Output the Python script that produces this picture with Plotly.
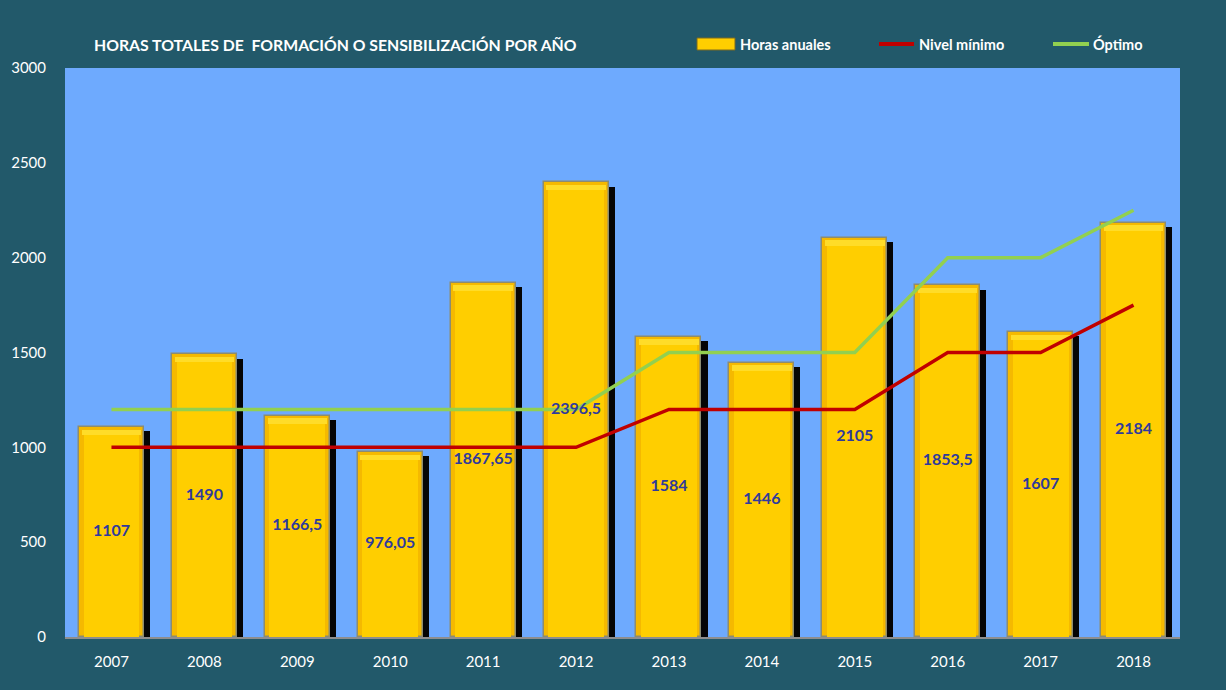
import plotly.graph_objects as go

# Annual training / awareness hours with minimum and optimum targets
years = ["2007", "2008", "2009", "2010", "2011", "2012",
         "2013", "2014", "2015", "2016", "2017", "2018"]
horas_anuales = [1107, 1490, 1166.5, 976.05, 1867.65, 2396.5,
                 1584, 1446, 2105, 1853.5, 1607, 2184]
nivel_minimo = [1000, 1000, 1000, 1000, 1000, 1000,
                1200, 1200, 1200, 1500, 1500, 1750]
optimo = [1200, 1200, 1200, 1200, 1200, 1200,
          1500, 1500, 1500, 2000, 2000, 2250]
y_ticks = [0, 500, 1000, 1500, 2000, 2500, 3000]

BG = "#22596A"
PLOT_BG = "#6EAAFE"
FONT = "Lato"
GOLD = "#FFCE00"
RED = "#C00000"
GREEN = "#92D050"

W, H = 1226, 690
ML, MR, MT, MB = 65, 46, 68, 53
PW, PH = W - ML - MR, H - MT - MB


def px_x(x):
    return (x - ML) / PW


def px_y(y):
    return (H - MB - y) / PH


def fmt(v):
    s = ("%.2f" % v).rstrip("0").rstrip(".")
    return s.replace(".", ",")


xi = list(range(len(years)))

fig = go.Figure()

# drop shadow behind each bar
fig.add_trace(go.Bar(
    x=[i + 0.065 for i in xi], y=[v - 22 for v in horas_anuales],
    width=0.7, marker=dict(color="#050505", line=dict(width=0)),
    hoverinfo="skip"))

# outer body of the bar (darker gold edge)
fig.add_trace(go.Bar(
    x=xi, y=horas_anuales, width=0.7, name="Horas anuales",
    marker=dict(color="#F5B900", line=dict(color="#8C8C70", width=1.5))))

# brighter inner face
fig.add_trace(go.Bar(
    x=xi, y=[v - 30 for v in horas_anuales], width=0.6,
    marker=dict(color=GOLD, line=dict(width=0)), hoverinfo="skip"))

# soft highlight near the top of each bar
fig.add_trace(go.Bar(
    x=xi, y=[28] * len(xi), base=[v - 42 for v in horas_anuales], width=0.64,
    marker=dict(color="#FFDC28", line=dict(width=0)), hoverinfo="skip"))

fig.add_trace(go.Scatter(
    x=xi, y=nivel_minimo, mode="lines", name="Nivel mínimo",
    line=dict(color=RED, width=3.5)))

fig.add_trace(go.Scatter(
    x=xi, y=optimo, mode="lines", name="Óptimo",
    line=dict(color=GREEN, width=3.5)))

# value labels at the middle of each bar
fig.add_trace(go.Scatter(
    x=xi, y=[v / 2 for v in horas_anuales], mode="text",
    text=[fmt(v) for v in horas_anuales],
    textfont=dict(family=FONT, size=16, color="#2F3A9C", weight="bold"),
    hoverinfo="skip"))

# legend drawn as shapes + labels across the header band
legend_y = 44
shapes = [
    dict(type="rect", xref="paper", yref="paper",
         x0=px_x(697), x1=px_x(735), y0=px_y(50), y1=px_y(38),
         fillcolor=GOLD, line=dict(color="#7A6A20", width=1)),
    dict(type="line", xref="paper", yref="paper",
         x0=px_x(879), x1=px_x(914), y0=px_y(legend_y), y1=px_y(legend_y),
         line=dict(color=RED, width=4)),
    dict(type="line", xref="paper", yref="paper",
         x0=px_x(1053), x1=px_x(1089), y0=px_y(legend_y), y1=px_y(legend_y),
         line=dict(color=GREEN, width=4)),
]
legend_labels = [("Horas anuales", 738), ("Nivel mínimo", 917), ("Óptimo", 1091)]

annotations = [dict(
    text="<b>HORAS TOTALES DE  FORMACIÓN O SENSIBILIZACIÓN POR AÑO</b>",
    xref="paper", yref="paper", x=px_x(92), y=px_y(44), xanchor="left", yanchor="middle",
    showarrow=False, font=dict(family=FONT, size=15.8, color="white"))]
for label, lx in legend_labels:
    annotations.append(dict(
        text="<b>%s</b>" % label, xref="paper", yref="paper",
        x=px_x(lx), y=px_y(legend_y), xanchor="left", yanchor="middle",
        showarrow=False, font=dict(family=FONT, size=14.5, color="white")))

fig.update_layout(
    width=W, height=H,
    paper_bgcolor=BG, plot_bgcolor=PLOT_BG,
    margin=dict(l=ML, r=MR, t=MT, b=MB),
    barmode="overlay", bargap=0,
    font=dict(family=FONT, color="white", size=14),
    showlegend=False,
    shapes=shapes, annotations=annotations,
)

fig.update_xaxes(
    tickmode="array", tickvals=xi, ticktext=years,
    range=[-0.5, len(xi) - 0.5], showgrid=False, zeroline=False,
    showline=True, linecolor="#8E8E8E", linewidth=2,
    ticks="", tickfont=dict(family=FONT, size=15, color="white"), ticklabelstandoff=10)

fig.update_yaxes(
    range=[0, 3000], tickvals=y_ticks, showgrid=False, zeroline=False,
    showline=False, ticks="", tickfont=dict(family=FONT, size=15, color="white"),
    ticklabelstandoff=18)

fig.write_html("out.html")
